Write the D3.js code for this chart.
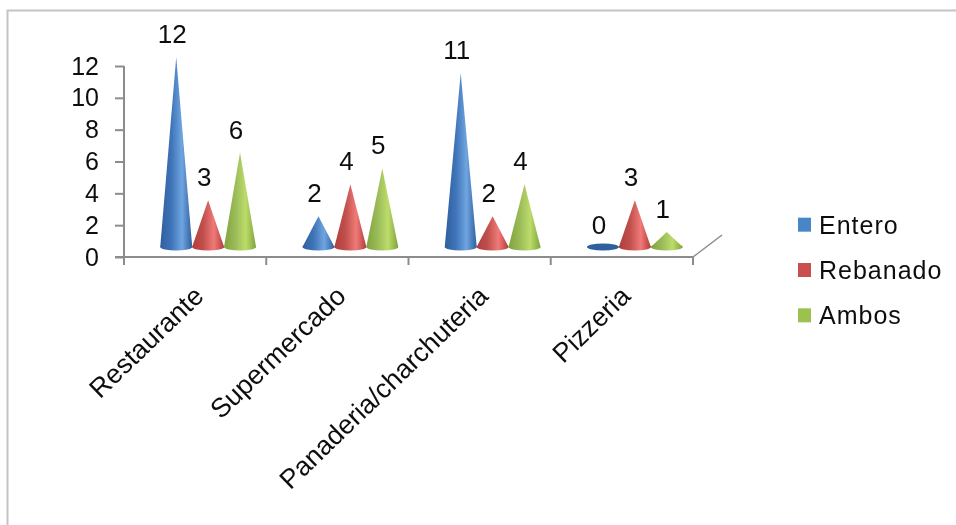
<!DOCTYPE html>
<html><head><meta charset="utf-8">
<script src="https://cdnjs.cloudflare.com/ajax/libs/d3/7.8.5/d3.min.js"></script>
<style>html,body{margin:0;padding:0;background:#fff}svg{display:block}text{font-family:"Liberation Sans",Arial,sans-serif;fill:#111}</style>
</head><body><div id="c"></div>
<script>
const categories = ["Restaurante","Supermercado","Panaderia/charchuteria","Pizzeria"];
const seriesNames = ["Entero","Rebanado","Ambos"];
const entero = [12,2,11,0];
const rebanado = [3,4,2,3];
const ambos = [6,5,4,1];
const yTicks = [0,2,4,6,8,10,12];
const seriesValues = [entero,rebanado,ambos];
const palette = [
 {base:"#3f74b8",dark:"#2f5f9e",light:"#6fa5e0",key:"#4a86c8"},
 {base:"#c0504d",dark:"#b23c3a",light:"#f07a78",key:"#c9504f"},
 {base:"#9bbb59",dark:"#7fa33c",light:"#bcdc6a",key:"#9bc24f"}];

const W=956,H=525;
const svg=d3.select("#c").append("svg").attr("width",W).attr("height",H);
const defs=svg.append("defs");
defs.append("filter").attr("id","soft").attr("x","-5%").attr("y","-5%").attr("width","110%").attr("height","110%")
  .append("feGaussianBlur").attr("stdDeviation",0.5);
palette.forEach((p,i)=>{
  const g=defs.append("linearGradient").attr("id","g"+i).attr("x1","0%").attr("x2","100%").attr("y1","0%").attr("y2","0%");
  [[0,p.dark],[0.35,p.base],[0.68,p.light],[1,p.dark]].forEach(([o,c])=>g.append("stop").attr("offset",o).attr("stop-color",c));
});
const root=svg.append("g").attr("filter","url(#soft)");

// frame
root.append("path").attr("d",`M7.5,${H+5} V10.5 H${W+5}`).attr("fill","none").attr("stroke","#c4c4c4").attr("stroke-width",2);

const x0=124,x1=693,yBase=257,yTop=66;
const x=d3.scaleBand().domain(categories).range([x0,x1]);
const inner=d3.scaleBand().domain(seriesNames).range([0,x.bandwidth()]).paddingInner(0).paddingOuter(0.73);
const y=d3.scaleLinear().domain([0,12]).range([yBase,yTop]);
const depthX=13,depthY=8,labelDX=-4,labelDY=-15;

// axes
const axisColor="#8c8c8c";
const yAxis=root.append("g").attr("transform",`translate(${x0},0)`)
  .call(d3.axisLeft(y).tickValues(yTicks).tickSize(9).tickPadding(16));
yAxis.select(".domain").attr("stroke",axisColor).attr("stroke-width",2).attr("d",`M0,${yTop}V${yBase}`);
yAxis.selectAll("line").attr("stroke",axisColor).attr("stroke-width",2);
yAxis.selectAll("text").attr("font-size",25).attr("font-family","Liberation Sans").attr("fill","#111");

const xAxisTicks=[...categories.map(c=>x(c)),x1];
const ax=root.append("g");
ax.append("line").attr("x1",x0-9).attr("x2",x1).attr("y1",yBase).attr("y2",yBase).attr("stroke",axisColor).attr("stroke-width",2);
ax.selectAll("line.t").data(xAxisTicks).join("line").attr("class","t")
  .attr("x1",d=>d).attr("x2",d=>d).attr("y1",yBase).attr("y2",yBase+8).attr("stroke",axisColor).attr("stroke-width",2);
ax.append("line").attr("x1",x1).attr("y1",yBase).attr("x2",x1+29).attr("y2",yBase-22).attr("stroke",axisColor).attr("stroke-width",1.5);

// cones
const ry=3.5,halfW=16,baseLift=10;
seriesNames.forEach((s,si)=>{
  const g=root.append("g").attr("class","series");
  const rows=categories.map((c,i)=>({c,v:seriesValues[si][i]}));
  const cx=d=>x(d.c)+inner(s)+inner.bandwidth()/2+depthX;
  const cone=g.selectAll("g").data(rows).join("g");
  cone.append("ellipse").attr("cx",cx).attr("cy",yBase-baseLift).attr("rx",halfW).attr("ry",ry)
    .attr("fill",d=>d.v===0?palette[si].dark:`url(#g${si})`);
  cone.filter(d=>d.v>0).append("path").attr("fill",`url(#g${si})`)
    .attr("d",d=>{const c=cx(d),t=y(d.v)-depthY-1,b=yBase-baseLift;return `M${c},${t}L${c+halfW},${b}L${c-halfW},${b}Z`;});
  cone.append("text").attr("x",d=>cx(d)+labelDX).attr("y",d=>y(d.v)-depthY+labelDY)
    .attr("text-anchor","middle").attr("font-size",26).text(d=>d.v);
});

// category labels
root.selectAll("text.cat").data(categories).join("text").attr("class","cat")
  .attr("text-anchor","end").attr("font-size",26.8)
  .attr("transform",d=>`translate(${x(d)+x.bandwidth()/2+10},${yBase+41}) rotate(-44)`)
  .text(d=>d);

// legend
const leg=d3.scaleBand().domain(seriesNames).range([202,338]);
const lg=root.selectAll("g.leg").data(seriesNames).join("g").attr("class","leg")
  .attr("transform",d=>`translate(798,${leg(d)+leg.bandwidth()/2})`);
lg.append("rect").attr("x",0).attr("y",-7).attr("width",13).attr("height",14).attr("fill",(d,i)=>palette[i].key);
lg.append("text").attr("x",21).attr("y",9).attr("font-size",25).attr("letter-spacing",1).text(d=>d);
</script></body></html>
